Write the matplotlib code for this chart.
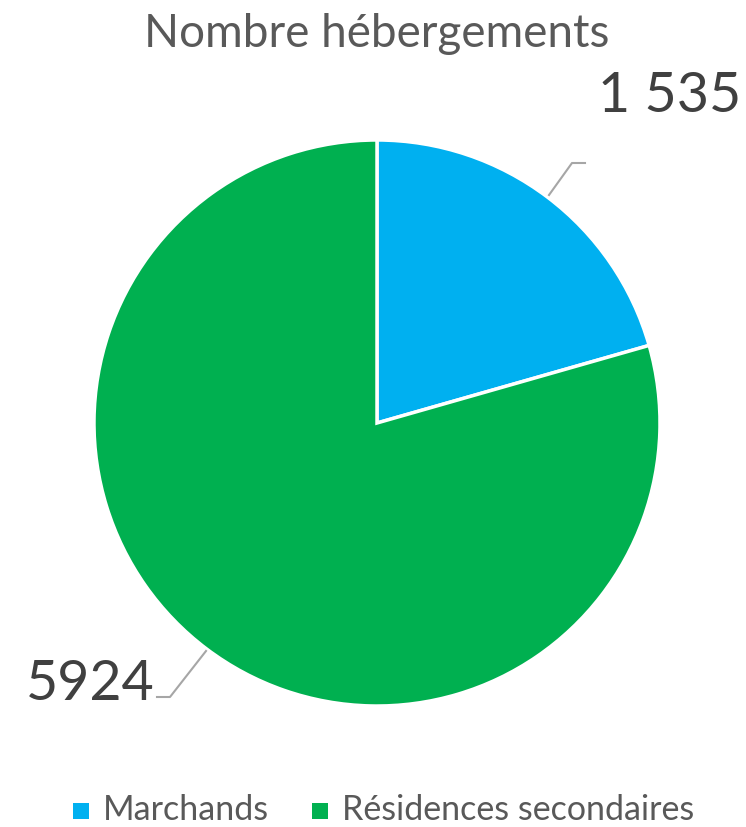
import matplotlib
matplotlib.use("Agg")
import matplotlib.pyplot as plt
from matplotlib.patches import Rectangle

categories = ["Marchands", "Résidences secondaires"]
values = [1535, 5924]
value_labels = ["1 535", "5924"]
colors = ["#00B0F0", "#00B050"]
title = "Nombre hébergements"

plt.rcParams['font.family'] = ['Lato', 'DejaVu Sans']

W, H = 746, 828
fig = plt.figure(figsize=(W / 100, H / 100), dpi=100)
ax = fig.add_axes([0, 0, 1, 1])

cx, cy, r = 377, H - 424, 283
ax.pie(values, colors=colors, startangle=90, counterclock=False,
       center=(cx, cy), radius=r, frame=True,
       wedgeprops=dict(edgecolor='white', linewidth=2.5))
ax.set_xlim(0, W)
ax.set_ylim(0, H)
ax.set_aspect('equal')
ax.axis('off')

lc = '#A6A6A6'
# leader lines
ax.plot([549, 572, 585], [H - 196, H - 164, H - 164], color=lc, lw=1.5)
ax.plot([206, 170, 157], [H - 652, H - 698, H - 698], color=lc, lw=1.5)

tc = '#404040'
ax.text(741, H - 112, value_labels[0], ha='right', va='baseline', fontsize=40, color=tc)
ax.text(26, H - 700, value_labels[1], ha='left', va='baseline', fontsize=40, color=tc)

ax.text(377, H - 47, title, ha='center', va='baseline', fontsize=33, color='#595959')

# legend
lx = [73, 312]
for i, (cat, col) in enumerate(zip(categories, colors)):
    ax.add_patch(Rectangle((lx[i], H - 820), 16, 16, facecolor=col, edgecolor='none'))
    ax.text(lx[i] + 30, H - 820, cat, ha='left', va='baseline', fontsize=24.5, color='#595959')

fig.savefig("out.png", dpi=100)
